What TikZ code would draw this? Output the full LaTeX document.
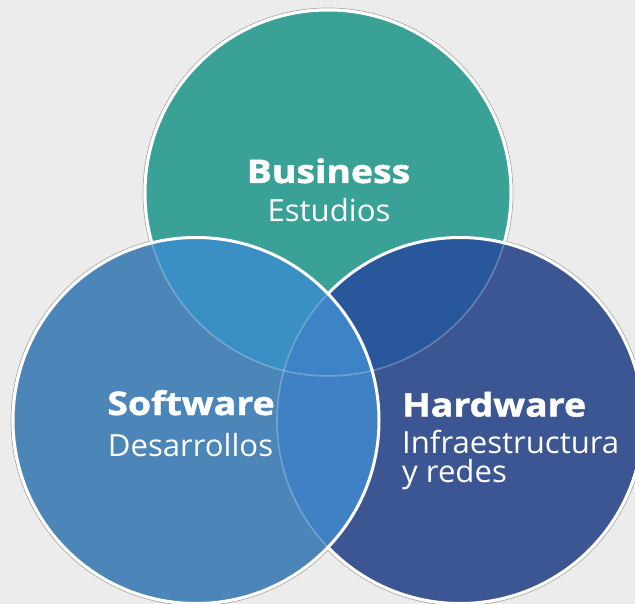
\documentclass[tikz,border=0pt]{standalone}
\usepackage{fontspec}
\setmainfont{Open Sans}
\newfontfamily\headfont[FakeStretch=1.15,BoldFeatures={FakeBold=1.5}]{Open Sans}
\newfontfamily\subfont[FakeStretch=1.02]{Open Sans}

\definecolor{bgGray}{HTML}{ECECEC}
\definecolor{bizTeal}{HTML}{3AA197}
\definecolor{softBlue}{HTML}{4C86B9}
\definecolor{hardBlue}{HTML}{3C5694}
\definecolor{bizHard}{HTML}{28589B}
\definecolor{bizSoft}{HTML}{3A8FC4}
\definecolor{softHard}{HTML}{4080C4}
\definecolor{allThree}{HTML}{3D84C6}

\begin{document}
\begin{tikzpicture}[x=1pt,y=-1pt,
    rim/.style={draw=white,line width=3pt},
    faint/.style={draw=white,draw opacity=0.25,line width=1.6pt},
    halo/.style={draw=black!35,line width=0.7pt}]

      \fill[bgGray] (0,0) rectangle (635,604);
      \useasboundingbox (0,0) rectangle (635,604);

      \coordinate (biz)  at (328,193);
      \coordinate (soft) at (196,420.5);
      \coordinate (hard) at (460,420.5);

      \def\bizCirc{(biz) circle (183pt)}
      \def\softCirc{(soft) circle (183pt)}
      \def\hardCirc{(hard) circle (183pt)}

      % thin grey outline round the white rims
      \draw[halo] (biz)  circle (185pt);
      \draw[halo] (soft) circle (185pt);
      \draw[halo] (hard) circle (185pt);

      % business
      \fill[bizTeal] \bizCirc;
      \draw[rim] \bizCirc;

      % hardware
      \fill[hardBlue] \hardCirc;
      \begin{scope}
        \clip \hardCirc;
        \fill[bizHard] \bizCirc;
        \draw[faint] \bizCirc;
      \end{scope}
      \draw[rim] \hardCirc;

      % software
      \fill[softBlue] \softCirc;
      \begin{scope}
        \clip \softCirc;
        \fill[bizSoft] \bizCirc;
        \fill[softHard] \hardCirc;
        \begin{scope}
          \clip \bizCirc;
          \fill[allThree] \hardCirc;
        \end{scope}
        \draw[faint] \bizCirc;
        \draw[faint] \hardCirc;
      \end{scope}
      \draw[rim] \softCirc;

      \begin{scope}[every node/.style={text=white,inner sep=0pt,
          font=\headfont\bfseries\fontsize{32.5}{36}\selectfont}]
        \node[anchor=base]      (business) at (328.5,183) {Business};
        \node[anchor=base]      (software) at (191,415)   {Software};
        \node[anchor=base west] (hardware) at (402,416.5) {Hardware};
      \end{scope}

      \begin{scope}[every node/.style={text=white,inner sep=0pt,
          font=\subfont\fontsize{30.5}{34}\selectfont}]
        \node[anchor=base]      (estudios) at (329,222)   {Estudios};
        \node[anchor=base]      (desarr)   at (190.5,456) {Desarrollos};
        \node[anchor=base west] (infra)    at (402,453)   {Infraestructura};
        \node[anchor=base west] (redes)    at (402,482)   {y redes};
      \end{scope}

    \end{tikzpicture}
\end{document}
